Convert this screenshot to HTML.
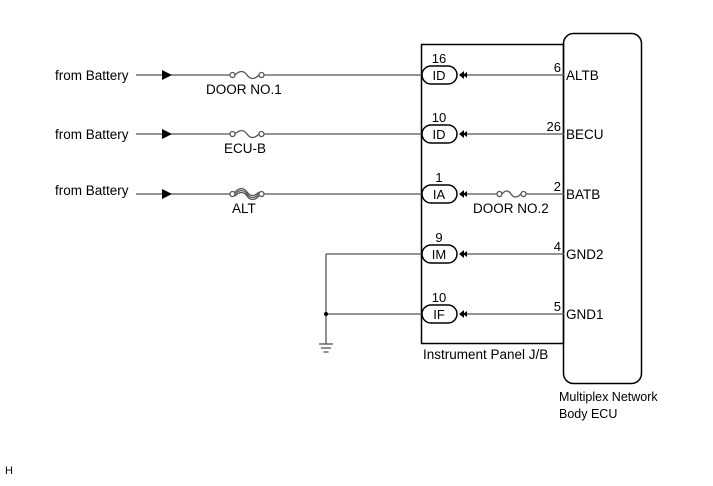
<!DOCTYPE html>
<html><head><style>
body{margin:0;background:#fff;}
svg text{font-family:"Liberation Sans",Arial,sans-serif;font-size:13.5px;fill:#000;}
</style></head><body>
<svg width="713" height="481" viewBox="0 0 713 481" xmlns="http://www.w3.org/2000/svg">
<g stroke="#000" fill="none">
<rect x="421.5" y="44.5" width="142" height="299" stroke-width="1.5"/>
<rect x="563.5" y="33.5" width="78" height="350" rx="10" stroke-width="1.5"/>
</g>
<g stroke="#555" stroke-width="1.3" fill="none">
<line x1="136" y1="75" x2="230" y2="75"/><line x1="264" y1="75" x2="422" y2="75"/>
<line x1="136" y1="134" x2="230" y2="134"/><line x1="264" y1="134" x2="422" y2="134"/>
<line x1="136" y1="194" x2="230" y2="194"/><line x1="264" y1="194" x2="422" y2="194"/>
<circle cx="232.5" cy="75" r="2.5"/><circle cx="261.5" cy="75" r="2.5"/><path d="M235 75 Q242 68 247 75 T259 75"/>
<circle cx="232.5" cy="134" r="2.5"/><circle cx="261.5" cy="134" r="2.5"/><path d="M235 134 Q242 127 247 134 T259 134"/>
<circle cx="232.5" cy="194" r="2.5"/><circle cx="261.5" cy="194" r="2.5"/>
<path d="M235 194 Q242 187 247 194 T259 194"/><path d="M235 192 Q242 185 247 192 T259 192"/><path d="M235 196 Q242 189 247 196 T259 196"/>
<line x1="462" y1="75" x2="564" y2="75"/>
<line x1="462" y1="134" x2="564" y2="134"/>
<line x1="462" y1="194" x2="497" y2="194"/><line x1="526" y1="194" x2="564" y2="194"/>
<circle cx="499.5" cy="194" r="2.5"/><circle cx="523.5" cy="194" r="2.5"/><path d="M502 194 Q507 188 511 194 T521 194"/>
<line x1="462" y1="254" x2="564" y2="254"/>
<line x1="462" y1="314" x2="564" y2="314"/>
<line x1="422" y1="254" x2="326" y2="254"/><line x1="422" y1="314" x2="326" y2="314"/>
<line x1="326" y1="254" x2="326" y2="344"/>
<line x1="319" y1="344" x2="333" y2="344"/><line x1="321" y1="348" x2="331" y2="348"/><line x1="323.5" y1="352" x2="328.5" y2="352"/>
</g>
<circle cx="326" cy="314" r="2" fill="#000"/>
<g fill="#000">
<polygon points="162,70 162,80 172,75"/><polygon points="162,129 162,139 172,134"/><polygon points="162,189 162,199 172,194"/>
</g>
<g stroke="#000" stroke-width="1.5" fill="#fff">
<rect x="422" y="66" width="35" height="18" rx="9"/>
<rect x="422" y="125" width="35" height="18" rx="9"/>
<rect x="422" y="185" width="35" height="18" rx="9"/>
<rect x="422" y="245" width="35" height="18" rx="9"/>
<rect x="422" y="305" width="35" height="18" rx="9"/>
</g>
<g fill="#000">
<path d="M459 75 l5 -4 v8z M463 75 l4 -3 v6z"/>
<path d="M459 134 l5 -4 v8z M463 134 l4 -3 v6z"/>
<path d="M459 194 l5 -4 v8z M463 194 l4 -3 v6z"/>
<path d="M459 254 l5 -4 v8z M463 254 l4 -3 v6z"/>
<path d="M459 314 l5 -4 v8z M463 314 l4 -3 v6z"/>
</g>
<text x="55" y="80">from Battery</text>
<text x="55" y="139">from Battery</text>
<text x="55" y="195">from Battery</text>
<text x="206" y="94">DOOR NO.1</text>
<text x="224" y="153">ECU-B</text>
<text x="232" y="213">ALT</text>
<text x="473" y="213">DOOR NO.2</text>
<g text-anchor="middle" style="font-size:13px">
<text x="439" y="80" style="font-size:13px">ID</text><text x="439" y="63" style="font-size:13px">16</text>
<text x="439" y="139" style="font-size:13px">ID</text><text x="439" y="122" style="font-size:13px">10</text>
<text x="439" y="199" style="font-size:13px">IA</text><text x="439" y="182" style="font-size:13px">1</text>
<text x="439" y="259" style="font-size:13px">IM</text><text x="439" y="242" style="font-size:13px">9</text>
<text x="439" y="319" style="font-size:13px">IF</text><text x="439" y="302" style="font-size:13px">10</text>
</g>
<g text-anchor="end">
<text x="561" y="72" style="font-size:13px">6</text><text x="561" y="131" style="font-size:13px">26</text><text x="561" y="191" style="font-size:13px">2</text><text x="561" y="251" style="font-size:13px">4</text><text x="561" y="311" style="font-size:13px">5</text>
</g>
<text x="566" y="80">ALTB</text>
<text x="566" y="139">BECU</text>
<text x="566" y="199">BATB</text>
<text x="566" y="259">GND2</text>
<text x="566" y="319">GND1</text>
<text x="423" y="359">Instrument Panel J/B</text>
<text x="559" y="401" style="font-size:12.5px">Multiplex Network</text>
<text x="559" y="418" style="font-size:12.5px">Body ECU</text>
<text x="5" y="474" style="font-size:11px">H</text>
</svg>
</body></html>
